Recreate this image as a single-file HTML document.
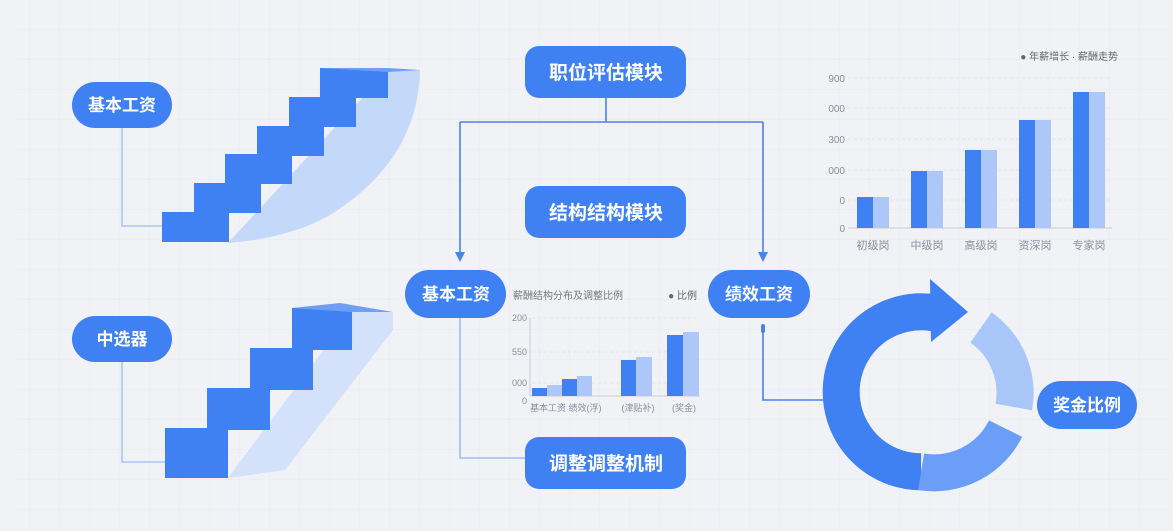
<!DOCTYPE html>
<html><head><meta charset="utf-8"><style>
html,body{margin:0;padding:0;background:#eff1f5;}
svg{display:block;font-family:"Liberation Sans","Noto Sans CJK SC",sans-serif;}
</style></head><body>
<svg width="1173" height="531" viewBox="0 0 1173 531" xmlns="http://www.w3.org/2000/svg">
<defs>
<pattern id="g" width="30" height="30" patternUnits="userSpaceOnUse"><path d="M30 0V30H0" fill="none" stroke="#e6e9ef" stroke-width="1"/></pattern>
</defs>
<rect width="1173" height="531" fill="#f0f2f6"/>
<rect x="12" y="0" width="1161" height="531" fill="url(#g)"/>

<g fill="none" stroke="#4a82e8" stroke-width="1.6">
<path d="M606 98V122M460 122H763M460 122V258M763 122V258"/>
<path d="M460 318V458H525" stroke="#9dbcf0"/>
<path d="M763 330V400H836"/>
</g>
<path d="M455 252L460 262L465 252Z M758 252L763 262L768 252Z" fill="#4a82e8"/>
<rect x="761" y="324" width="4" height="9" rx="2" fill="#4a82e8"/>
<g fill="none" stroke="#a9c4f0" stroke-width="1.6">
<path d="M122 128V226H162"/><path d="M122 362V462H165"/>
</g>

<path d="M228 243 L388 70 L420 70 Q418 160 330 215 Q290 238 228 243Z" fill="#c4d8fa"/>
<g fill="#3f80f2">
<rect x="162" y="212" width="67" height="30"/>
<rect x="194" y="183" width="67" height="30"/>
<rect x="225" y="154" width="67" height="30"/>
<rect x="257" y="126" width="67" height="30"/>
<rect x="289" y="97" width="67" height="30"/>
<rect x="320" y="68" width="68" height="30"/>
</g>
<path d="M320 68L388 68L420 70L388 72Z" fill="#6f9ff5"/>

<path d="M228 478 L352 312 L393 312 L393 330 L285 470Z" fill="#d3e2fa"/>
<g fill="#3f80f2">
<rect x="165" y="428" width="63" height="50"/>
<rect x="207" y="388" width="63" height="42"/>
<rect x="250" y="348" width="63" height="42"/>
<rect x="292" y="308" width="60" height="42"/>
</g>
<path d="M292 308L340 303L393 312L352 312Z" fill="#6f9ff5"/>

<g fill="none" stroke-width="37">
<path d="M921.1 471.8 A80 80 0 1 1 935 313" stroke="#3f80f2"/>
<path d="M981 327.5 A80 80 0 0 1 1013.8 407" stroke="#a9c6f8"/>
<path d="M1005.6 428.6 A80 80 0 0 1 921.1 471.8" stroke="#6b9ef6"/>
</g>
<path d="M930 279 L968 312 L931 342Z" fill="#3f80f2"/>

<g fill="#3f80f2">
<rect x="72" y="82" width="100" height="46" rx="23"/>
<rect x="72" y="316" width="100" height="46" rx="23"/>
<rect x="525" y="46" width="161" height="52" rx="14"/>
<rect x="525" y="186" width="161" height="52" rx="14"/>
<rect x="405" y="270" width="101" height="48" rx="24"/>
<rect x="708" y="270" width="102" height="48" rx="24"/>
<rect x="525" y="437" width="161" height="52" rx="14"/>
<rect x="1037" y="381" width="100" height="48" rx="24"/>
</g>
<g fill="#fff" font-size="17" font-weight="bold" text-anchor="middle">
<text x="122" y="111">基本工资</text>
<text x="122" y="345">中选器</text>
<text x="606" y="79" font-size="19">职位评估模块</text>
<text x="606" y="219" font-size="19">结构结构模块</text>
<text x="456" y="300">基本工资</text>
<text x="759" y="300">绩效工资</text>
<text x="606" y="470" font-size="19">调整调整机制</text>
<text x="1087" y="411">奖金比例</text>
</g>

<g stroke="#e2e5ec" stroke-width="1" stroke-dasharray="3 3">
<path d="M848 78H1110M848 108H1110M848 139H1110M848 170H1110M848 200H1110"/>
</g>
<path d="M848 228H1112" stroke="#c8ccd6"/>
<g fill="#8a8f99" font-size="10" text-anchor="end">
<text x="845" y="82">900</text><text x="845" y="112">000</text><text x="845" y="143">300</text>
<text x="845" y="174">000</text><text x="845" y="204">0</text><text x="845" y="232">0</text>
</g>
<text x="1118" y="60" fill="#666" font-size="10" text-anchor="end">● 年薪增长 · 薪酬走势</text>
<g fill="#3f80f2">
<rect x="857" y="197" width="16" height="31"/><rect x="911" y="171" width="16" height="57"/>
<rect x="965" y="150" width="16" height="78"/><rect x="1019" y="120" width="16" height="108"/>
<rect x="1073" y="92" width="16" height="136"/>
</g>
<g fill="#adc8f8">
<rect x="873" y="197" width="16" height="31"/><rect x="927" y="171" width="16" height="57"/>
<rect x="981" y="150" width="16" height="78"/><rect x="1035" y="120" width="16" height="108"/>
<rect x="1089" y="92" width="16" height="136"/>
</g>
<g fill="#8a8f99" font-size="11" text-anchor="middle">
<text x="873" y="249">初级岗</text><text x="927" y="249">中级岗</text><text x="981" y="249">高级岗</text>
<text x="1035" y="249">资深岗</text><text x="1089" y="249">专家岗</text>
</g>

<text x="513" y="299" fill="#777" font-size="10">薪酬结构分布及调整比例</text>
<text x="697" y="299" fill="#666" font-size="10" text-anchor="end">● 比例</text>
<g stroke="#e2e5ec" stroke-dasharray="3 3"><path d="M532 318H700M532 352H700M532 383H700"/></g>
<path d="M530 318V396H700" stroke="#c8ccd6" fill="none"/>
<g fill="#8a8f99" font-size="9" text-anchor="end">
<text x="527" y="321">200</text><text x="527" y="355">550</text><text x="527" y="386">000</text><text x="527" y="404">0</text>
</g>
<g fill="#3f80f2">
<rect x="532" y="388" width="15" height="8"/><rect x="562" y="379" width="15" height="17"/>
<rect x="621" y="360" width="15" height="36"/><rect x="667" y="335" width="16" height="61"/>
</g>
<g fill="#adc8f8">
<rect x="547" y="385" width="15" height="11"/><rect x="577" y="376" width="15" height="20"/>
<rect x="636" y="357" width="16" height="39"/><rect x="683" y="332" width="16" height="64"/>
</g>
<g fill="#8a8f99" font-size="9" text-anchor="middle">
<text x="548" y="411">基本工资</text><text x="585" y="411">绩效(浮)</text>
<text x="638" y="411">(津贴补)</text><text x="684" y="411">(奖金)</text>
</g>
</svg>
</body></html>
